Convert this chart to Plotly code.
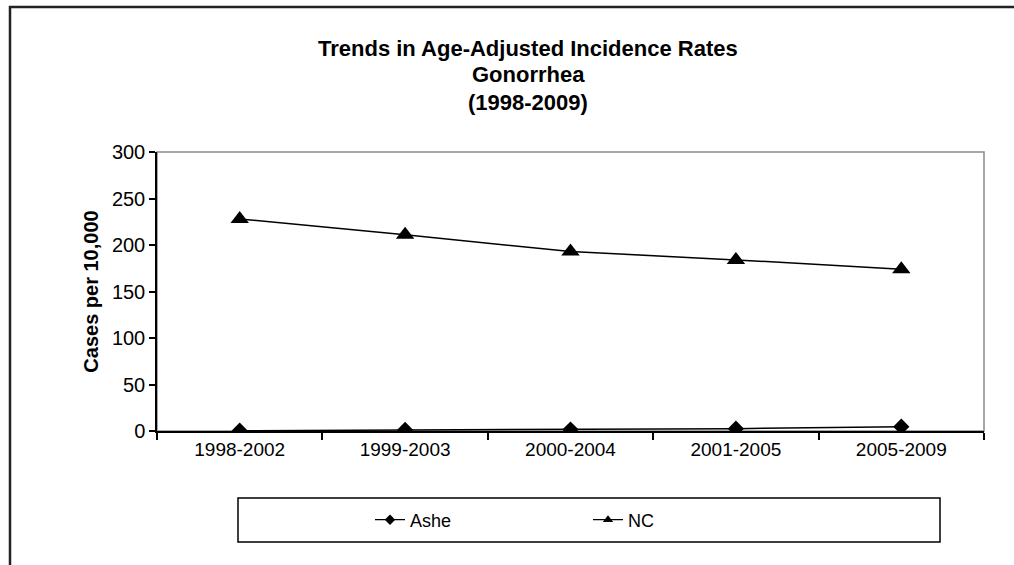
import plotly.graph_objects as go

categories = ["1998-2002", "1999-2003", "2000-2004", "2001-2005", "2005-2009"]
ashe = [0.3, 1.2, 1.5, 2.5, 4.6]
nc = [228, 211, 193, 184, 174]
y_ticks = [0, 50, 100, 150, 200, 250, 300]
series_names = ["Ashe", "NC"]

W, H = 1014, 565
L, R, T, B = 157, 984, 152, 431  # plot area in px


def px_x(x):
    return (x - L) / (R - L)


def px_y(y):
    return (B - y) / (B - T)


FONT = "Liberation Sans, Arial, sans-serif"

fig = go.Figure()
fig.add_trace(go.Scatter(
    x=categories, y=ashe, name=series_names[0], mode="lines+markers",
    line=dict(color="black", width=1.5), showlegend=False,
    marker=dict(symbol="diamond", size=12.5, color="black"),
))
fig.add_trace(go.Scatter(
    x=categories, y=nc, name=series_names[1], mode="lines+markers",
    line=dict(color="black", width=1.5), showlegend=False,
    marker=dict(symbol="triangle-up", size=16, color="black"),
))
# legend entries (smaller symbols, as in the reference legend)
fig.add_trace(go.Scatter(
    x=[None], y=[None], name=series_names[0], mode="lines+markers",
    line=dict(color="black", width=1.2),
    marker=dict(symbol="diamond", size=8, color="black"),
))
fig.add_trace(go.Scatter(
    x=[None], y=[None], name=series_names[1], mode="lines+markers",
    line=dict(color="black", width=1.2),
    marker=dict(symbol="triangle-up", size=9, color="black"),
))

fig.update_layout(
    width=W, height=H,
    margin=dict(l=L, r=W - R, t=T, b=H - B, pad=0),
    paper_bgcolor="white", plot_bgcolor="white",
    font=dict(family=FONT, size=20, color="black"),
    showlegend=True,
    legend=dict(
        orientation="h", x=px_x(370), y=px_y(520), xanchor="left", yanchor="middle",
        font=dict(size=18), entrywidth=173, entrywidthmode="pixels",
        bgcolor="rgba(0,0,0,0)", borderwidth=0, itemsizing="trace",
    ),
    xaxis=dict(
        type="category", range=[-0.5, 4.5], tickson="boundaries",
        ticks="outside", ticklen=7, tickwidth=1.5, tickcolor="black",
        showline=True, linecolor="black", linewidth=1.5, showgrid=False,
        zeroline=False, tickfont=dict(size=19),
    ),
    yaxis=dict(
        range=[0, 300], tickvals=y_ticks, ticks="outside", ticklen=6,
        tickwidth=1.5, tickcolor="black", showline=True, linecolor="black",
        linewidth=1.5, showgrid=False, zeroline=False, tickfont=dict(size=20),
        title=dict(text="<b>Cases per 10,000</b>", font=dict(size=20), standoff=8),
    ),
)

# plot-area border (gray) and outer chart frame
fig.add_shape(type="rect", xref="paper", yref="paper", x0=0, x1=1, y0=0, y1=1,
              line=dict(color="#8a8a8a", width=1.5), layer="below")
fig.add_shape(type="rect", xref="paper", yref="paper",
              x0=px_x(10), x1=px_x(1030), y0=px_y(7), y1=px_y(580),
              line=dict(color="#222222", width=2.5), layer="below")
# legend box
fig.add_shape(type="rect", xref="paper", yref="paper",
              x0=px_x(238), x1=px_x(940), y0=px_y(498), y1=px_y(542),
              line=dict(color="black", width=1.5), layer="below")

titles = [("Trends in Age-Adjusted Incidence Rates", 49),
          ("Gonorrhea", 75), ("(1998-2009)", 102)]
for text, yy in titles:
    fig.add_annotation(text=f"<b>{text}</b>", xref="paper", yref="paper",
                       x=px_x(528), y=px_y(yy), xanchor="center", yanchor="middle",
                       showarrow=False, font=dict(size=22, family=FONT))

fig.write_html("out.html")
